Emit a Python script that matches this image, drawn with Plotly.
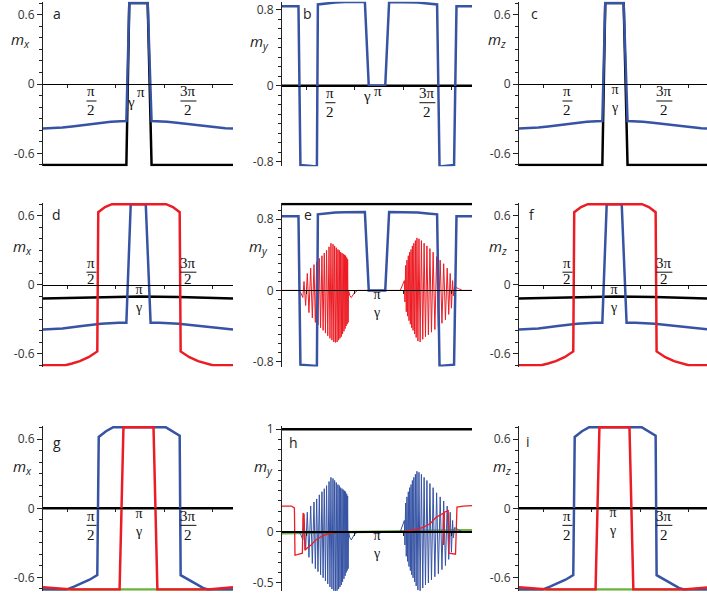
import plotly.graph_objects as go

W, H = 707, 597
BLUE = "#3653a4"
RED = "#ec1c24"
BLACK = "#000000"
GREEN = "#6cb33f"
AXC = "#222222"
SANS = "Open Sans"
SERIF = "Liberation Serif"

# ---------------- data (x in units of pi) ----------------
# panels a and c
ac_blue_x = [0, 0.1, 0.2, 0.3, 0.4, 0.5, 0.6, 0.7, 0.8, 0.86, 0.89, 1.08, 1.12, 1.18, 1.28, 1.38,
             1.48, 1.58, 1.68, 1.78, 1.88, 1.96]
ac_blue_y = [-0.385, -0.383, -0.377, -0.368, -0.357, -0.345, -0.335, -0.327, -0.322, -0.321, 0.70, 0.70,
             -0.321, -0.322, -0.327, -0.335, -0.345, -0.357, -0.368, -0.377, -0.383, -0.385]
ac_black_x = [0, 0.86, 0.89, 1.08, 1.12, 1.96]
ac_black_y = [-0.70, -0.70, 0.70, 0.70, -0.70, -0.70]

# panels b and e (blue)
be_blue_x = [0, 0.17, 0.19, 0.36, 0.37, 0.45, 0.55, 0.65, 0.75, 0.855, 0.895, 1.065, 1.105, 1.2, 1.3,
             1.4, 1.5, 1.60, 1.625, 1.775, 1.80, 1.96]
be_blue_y = [0.835, 0.835, -0.835, -0.85, 0.855, 0.865, 0.875, 0.88, 0.882, 0.882, 0.0, 0.0, 0.882, 0.882,
             0.88, 0.875, 0.865, 0.855, -0.85, -0.835, 0.835, 0.835]
zero_x = [0, 1.96]
zero_y = [0, 0]

# panels d and f
df_red_x = [0, 0.23, 0.30, 0.38, 0.47, 0.56, 0.57, 0.64, 0.71, 1.27, 1.34, 1.41, 1.42, 1.51, 1.60, 1.68,
            1.75, 1.96]
df_red_y = [-0.70, -0.70, -0.685, -0.665, -0.63, -0.58, 0.63, 0.675, 0.70, 0.70, 0.675, 0.63, -0.58, -0.63,
            -0.665, -0.685, -0.70, -0.70]
df_blue_x = [0, 0.2, 0.4, 0.6, 0.78, 0.86, 0.905, 1.06, 1.11, 1.2, 1.4, 1.6, 1.8, 1.96]
df_blue_y = [-0.39, -0.38, -0.36, -0.34, -0.33, -0.33, 0.70, 0.70, -0.33, -0.33, -0.34, -0.36, -0.38, -0.39]
df_black_x = [0, 0.3, 0.6, 1.0, 1.4, 1.7, 1.96]
df_black_y = [-0.12, -0.113, -0.106, -0.103, -0.106, -0.113, -0.12]

# panel e black
e_black_x = [0, 1.96]
e_black_y = [0.972, 0.972]

# oscillating component (red in e, blue in h)
osc_x = [0, 0.17, 0.195, 0.215,
         0.227, 0.244, 0.261, 0.278, 0.296, 0.313, 0.330, 0.344, 0.358, 0.371,
         0.385, 0.398, 0.412, 0.424, 0.436, 0.448, 0.460, 0.472, 0.485, 0.495,
         0.505, 0.515, 0.526, 0.534, 0.543, 0.551, 0.560, 0.568, 0.577, 0.584,
         0.591, 0.598, 0.605, 0.612, 0.619, 0.625, 0.632, 0.639, 0.646, 0.651,
         0.656, 0.661, 0.667, 0.672, 0.677, 0.682,
         0.686, 0.70, 0.715, 0.745, 0.78, 1.22, 1.245, 1.262,
         1.268, 1.275, 1.282, 1.289, 1.296, 1.303, 1.310, 1.317, 1.324, 1.331,
         1.338, 1.345, 1.352, 1.360, 1.368, 1.376, 1.384, 1.392, 1.402, 1.413,
         1.425, 1.438, 1.452, 1.466, 1.480, 1.495, 1.510, 1.526, 1.542, 1.559,
         1.577, 1.595, 1.613, 1.632, 1.650, 1.668, 1.686, 1.704, 1.720, 1.735,
         1.748, 1.760, 1.768,
         1.78, 1.82, 1.86, 1.96]
osc_y = [0, 0, -0.03, -0.08,
         0.10, -0.17, 0.19, -0.25, 0.25, -0.31, 0.29, -0.36, 0.32, -0.39,
         0.36, -0.42, 0.39, -0.45, 0.42, -0.48, 0.45, -0.51, 0.49, -0.54,
         0.53, -0.56, 0.52, -0.58, 0.50, -0.585, 0.48, -0.58, 0.46, -0.56,
         0.45, -0.54, 0.43, -0.52, 0.42, -0.49, 0.41, -0.46, 0.40, -0.43,
         0.39, -0.40, 0.37, -0.38, 0.35, -0.36,
         0.0, -0.06, -0.08, -0.03, 0.0, 0.0, 0.06, 0.11,
         -0.13, 0.28, -0.24, 0.34, -0.29, 0.39, -0.34, 0.43, -0.38, 0.46,
         -0.42, 0.50, -0.45, 0.53, -0.49, 0.56, -0.53, 0.59, -0.57, 0.58,
         -0.58, 0.56, -0.55, 0.53, -0.52, 0.50, -0.50, 0.47, -0.47, 0.43,
         -0.44, 0.38, -0.41, 0.34, -0.37, 0.30, -0.33, 0.25, -0.27, 0.19,
         -0.20, 0.11, -0.06,
         0.04, 0.02, 0.0, 0.0]

# panels g and i
gi_blue_x = [0, 0.24, 0.32, 0.40, 0.48, 0.56, 0.575, 0.65, 0.725, 1.265, 1.34, 1.41, 1.42, 1.50, 1.58,
             1.65, 1.70, 1.96]
gi_blue_y = [-0.705, -0.705, -0.68, -0.65, -0.62, -0.58, 0.62, 0.67, 0.705, 0.705, 0.67, 0.63, -0.58,
             -0.62, -0.66, -0.69, -0.705, -0.705]
gi_red_x = [0, 0.15, 0.30, 0.79, 0.83, 1.14, 1.18, 1.70, 1.85, 1.96]
gi_red_y = [-0.685, -0.695, -0.705, -0.705, 0.705, 0.705, -0.705, -0.705, -0.695, -0.685]
gi_green_x = [0, 1.96]
gi_green_y = [-0.705, -0.705]

# panel h
h_black_x = [0, 1.96]
h_black_y = [1.0, 1.0]
h_green_x = [0, 0.3, 0.6, 1.0, 1.4, 1.7, 1.96]
h_green_y = [-0.015, -0.012, -0.006, 0.0, 0.006, 0.012, 0.015]
h_red_x = [0, 0.10, 0.128, 0.134, 0.21, 0.217, 0.228, 0.236, 0.26, 0.30, 0.35, 0.42, 0.50, 0.58, 0.68,
           1.22, 1.35, 1.45, 1.53, 1.59, 1.645, 1.665, 1.668, 1.672, 1.675, 1.715, 1.722, 1.79, 1.805,
           1.87, 1.96]
h_red_y = [0.25, 0.25, 0.23, -0.23, -0.21, 0.18, 0.17, -0.18, -0.16, -0.13, -0.08, -0.04, -0.015, -0.005,
           0.0, 0.0, 0.016, 0.04, 0.08, 0.14, 0.17, 0.18, -0.13, 0.18, 0.19, 0.205, -0.21, -0.22, 0.24,
           0.25, 0.255]

# tick labels
tick_06 = ([-0.6, 0, 0.6], ["-0.6", "0", "0.6"])
tick_08 = ([-0.8, 0, 0.8], ["-0.8", "0", "0.8"])
tick_h = ([-0.5, 0, 1], ["-0.5", "0", "1"])
xminor_ticks = [0.25, 0.75, 1.25, 1.75]

# ---------------- layout geometry (pixels) ----------------
COLS = [(43, 233, 1.96), (282, 472, 1.96), (519, 707, 1.94)]
ROWS = [(1.7, 166.3), (202.8, 366.6), (426, 590.7)]


def sfx(k):
    return "" if k == 1 else str(k)


fig = go.Figure()

panels = [
    dict(k=1, c=0, r=0, yr=[-0.712, 0.712], ticks=tick_06, axw=1.0,
         tr=[(ac_black_x, ac_black_y, BLACK, 2.5), (ac_blue_x, ac_blue_y, BLUE, 2.5)]),
    dict(k=2, c=1, r=0, yr=[-0.848, 0.884], ticks=tick_08, axw=1.0,
         tr=[(zero_x, zero_y, BLACK, 2.5), (be_blue_x, be_blue_y, BLUE, 2.5)]),
    dict(k=3, c=2, r=0, yr=[-0.712, 0.712], ticks=tick_06, axw=1.0,
         tr=[(ac_black_x, ac_black_y, BLACK, 2.5), (ac_blue_x, ac_blue_y, BLUE, 2.5)]),
    dict(k=4, c=0, r=1, yr=[-0.712, 0.712], ticks=tick_06, axw=1.0,
         tr=[(df_black_x, df_black_y, BLACK, 2.5), (df_blue_x, df_blue_y, BLUE, 2.5),
             (df_red_x, df_red_y, RED, 2.5)]),
    dict(k=5, c=1, r=1, yr=[-0.857, 0.985], ticks=tick_08, axw=1.0,
         tr=[(e_black_x, e_black_y, BLACK, 2.5), (osc_x, osc_y, RED, 1.0),
             (be_blue_x, be_blue_y, BLUE, 2.5)]),
    dict(k=6, c=2, r=1, yr=[-0.712, 0.712], ticks=tick_06, axw=1.0,
         tr=[(df_black_x, df_black_y, BLACK, 2.5), (df_blue_x, df_blue_y, BLUE, 2.5),
             (df_red_x, df_red_y, RED, 2.5)]),
    dict(k=7, c=0, r=2, yr=[-0.715, 0.715], ticks=tick_06, axw=1.0,
         tr=[(gi_green_x, gi_green_y, GREEN, 2.5), (zero_x, zero_y, BLACK, 2.5),
             (gi_blue_x, gi_blue_y, BLUE, 2.5), (gi_red_x, gi_red_y, RED, 2.5)]),
    dict(k=8, c=1, r=2, yr=[-0.576, 1.032], ticks=tick_h, axw=1.8,
         tr=[(h_black_x, h_black_y, BLACK, 2.5), (h_green_x, h_green_y, GREEN, 2.5),
             (osc_x, osc_y, BLUE, 1.0), (h_red_x, h_red_y, RED, 1.3)]),
    dict(k=9, c=2, r=2, yr=[-0.715, 0.715], ticks=tick_06, axw=1.0,
         tr=[(gi_green_x, gi_green_y, GREEN, 2.5), (zero_x, zero_y, BLACK, 2.5),
             (gi_blue_x, gi_blue_y, BLUE, 2.5), (gi_red_x, gi_red_y, RED, 2.5)]),
]
PANEL = {p["k"]: p for p in panels}

for p in panels:
    k = p["k"]
    s = sfx(k)
    xl, xr, xmax = COLS[p["c"]]
    yt, yb = ROWS[p["r"]]
    xdom = [xl / W, xr / W]
    ydom = [1 - yb / H, 1 - yt / H]
    lo, hi = p["yr"]
    zero_pos = ydom[0] + (0 - lo) / (hi - lo) * (ydom[1] - ydom[0])
    for (xs, ys, col, w) in p["tr"]:
        fig.add_trace(go.Scatter(x=xs, y=ys, mode="lines", line=dict(color=col, width=w),
                                 xaxis="x" + s, yaxis="y" + s, hoverinfo="skip", showlegend=False))
    minor_vals = [round(i * 0.1, 1) for i in range(-10, 11) if lo <= i * 0.1 <= hi]
    fig.layout["xaxis" + s] = dict(
        domain=xdom, range=[0, xmax], anchor="free", position=zero_pos, automargin=False,
        showline=True, linecolor=BLACK, linewidth=p["axw"], ticks="outside", ticklen=3,
        tickcolor=AXC, tickvals=xminor_ticks, showticklabels=False, showgrid=False,
        zeroline=False, fixedrange=True)
    fig.layout["yaxis" + s] = dict(
        domain=ydom, range=[lo, hi], anchor="x" + s, automargin=False, showline=True, linecolor=AXC,
        linewidth=1, ticks="outside", ticklen=5, tickcolor=AXC, tickvals=p["ticks"][0],
        ticktext=p["ticks"][1], tickfont=dict(family=SANS, size=12, color="#333333"), showgrid=False,
        zeroline=False, fixedrange=True,
        minor=dict(tickmode="array", tickvals=minor_vals, ticks="outside", ticklen=3, tickcolor=AXC))


def to_px(k, x):
    """pixel position (x, y of the data-zero line) inside the page for panel k"""
    p = PANEL[k]
    xl, xr, xmax = COLS[p["c"]]
    yt, yb = ROWS[p["r"]]
    lo, hi = p["yr"]
    return xl + x * (xr - xl) / xmax, yt + hi / (hi - lo) * (yb - yt)


# ---------------- text ----------------
def paper_text(px, py, text, size, family=SANS, color="#222222", style="normal"):
    fig.add_annotation(x=px / W, y=1 - py / H, xref="paper", yref="paper", text=text, showarrow=False,
                       xanchor="center", yanchor="middle",
                       font=dict(family=family, size=size, color=color, style=style))


letters = [("a", 57, 14), ("b", 307, 14), ("c", 534, 14), ("d", 57, 215), ("e", 308, 215),
           ("f", 532, 215), ("g", 57, 442), ("h", 293, 442), ("i", 528, 441)]
for t, px, py in letters:
    paper_text(px, py, t, 14)

mlabels = [("x", 20, 40), ("y", 259, 42), ("z", 497, 40), ("x", 22, 247), ("y", 258, 247),
           ("z", 498, 247), ("x", 22, 467), ("y", 263, 467), ("z", 502, 467)]
for comp, px, py in mlabels:
    paper_text(px, py, "m<sub>%s</sub>" % comp, 15, style="italic")

# glyph visual-centre corrections (px)
CORR = {"pi": 1.5, "gamma": 3.0, "digit": 0.0, "box": 0.0}


def axis_text(k, x, text, off, dx=0, kind="pi", size=15):
    s = sfx(k)
    fig.add_annotation(x=x, y=0, xref="x" + s, yref="y" + s, text=text, showarrow=False,
                       xanchor="center", yanchor="middle", xshift=dx, yshift=-(off - CORR[kind]),
                       font=dict(family=SERIF, size=size, color="#111111"))


def frac(k, x, num, hw, offs):
    o_num, o_bar, o_den = offs
    axis_text(k, x, num, o_num, kind="pi")
    axis_text(k, x, "2", o_den, kind="digit")
    cx, cy = to_px(k, x)
    by = cy + o_bar
    fig.add_shape(type="line", xref="paper", yref="paper",
                  x0=(cx - hw) / W, x1=(cx + hw) / W, y0=1 - by / H, y1=1 - by / H,
                  line=dict(color="#111111", width=1))


def pi_gamma(k, off, dx=0):
    # stacked "π over γ" as one two-line text
    axis_text(k, 1.0, "π<br>γ", off, dx=dx, kind="box", size=14)


BELOW1 = (9, 17, 26)
ABOVE = (-20, -12.5, -6)
BELOW3 = (9, 17, 27)

# row 1
for k in (1, 2, 3):
    frac(k, 0.5, "π", 5, BELOW1)
    frac(k, 1.5, "3π", 8, BELOW1)
axis_text(1, 1.0, "π", 10, dx=1, kind="pi")
axis_text(1, 1.0, "γ", 21, dx=-9, kind="gamma")
axis_text(2, 1.0, "π", 7, dx=-1, kind="pi")
axis_text(2, 1.0, "γ", 13, dx=-12, kind="gamma")
pi_gamma(3, 14.5, dx=-1)

# row 2
for k in (4, 6):
    frac(k, 0.5, "π", 5, ABOVE)
    frac(k, 1.5, "3π", 8, ABOVE)
pi_gamma(4, 13.5, dx=-1)
pi_gamma(5, 13.5, dx=-2)
pi_gamma(6, 13.5, dx=-2)

# row 3
for k in (7, 9):
    frac(k, 0.5, "π", 5, BELOW3)
    frac(k, 1.5, "3π", 8, BELOW3)
pi_gamma(7, 14.5, dx=-1)
pi_gamma(8, 13.0, dx=-2)
pi_gamma(9, 13.5, dx=-3)

fig.update_layout(width=W, height=H, margin=dict(l=0, r=0, t=0, b=0, pad=0, autoexpand=False),
                  paper_bgcolor="white", plot_bgcolor="rgba(0,0,0,0)", showlegend=False)

fig.write_html("out.html", config={"displayModeBar": False},
               post_script="document.body.style.margin='0px';document.body.style.overflow='hidden';")
